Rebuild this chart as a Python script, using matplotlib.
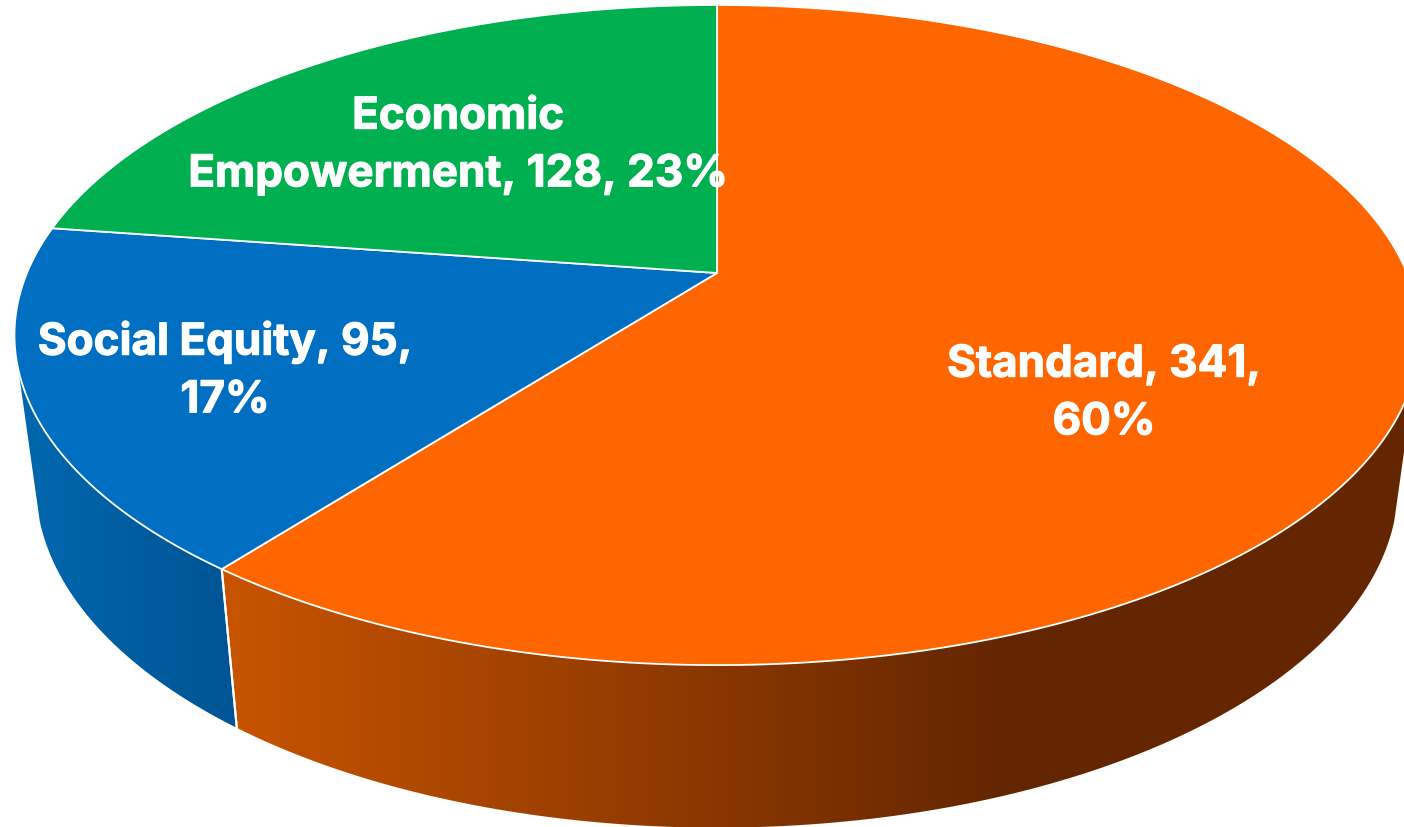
#!/usr/bin/env python3
"""Perspective 3D pie chart, the tilted disc is projected by hand."""

import numpy as np
import matplotlib
matplotlib.use('Agg')
import matplotlib.pyplot as plt
import matplotlib.patheffects as pe
from matplotlib.colors import LinearSegmentedColormap
from matplotlib.patches import Polygon

# Data
categories = ['Standard', 'Social Equity', 'Economic\nEmpowerment']
counts = [341, 95, 128]
percents = [60, 17, 23]
label_texts = ['Standard, 341,\n60%', 'Social Equity, 95,\n17%', 'Economic\nEmpowerment, 128, 23%']

top_colors = ['#FF6600', '#006EC1', '#00AF50']

# Projection of the top and bottom faces (pixels)
TOP = dict(x0=717, y0=273, a=690, b=318.4, p=0.188)
BOTTOM = dict(x0=717, y0=420, a=669, b=331, p=0.188)


def project(theta, face):
    """Angle clockwise from 12 o'clock to screen coordinates."""
    w = 1 + face['p'] * np.cos(theta)
    x = face['x0'] + face['a'] * np.sin(theta) / w
    y = face['y0'] - face['b'] * np.cos(theta) / w
    return x, y


def arc(start, end, face, n=240):
    thetas = np.linspace(start, end, n)
    x, y = project(thetas, face)
    return np.column_stack([x, y])


def draw_side(ax, start, end, stops, xmin, xmax, zorder=1):
    outline = np.vstack([arc(start, end, TOP), arc(end, start, BOTTOM)])
    cmap = LinearSegmentedColormap.from_list('side', stops)
    gradient = np.linspace(0, 1, 512).reshape(1, -1)
    im = ax.imshow(gradient, cmap=cmap, extent=[xmin, xmax, 827, 0], aspect='auto', zorder=zorder)
    patch = Polygon(outline, closed=True, facecolor='none', edgecolor='none', zorder=zorder + 1)
    ax.add_patch(patch)
    im.set_clip_path(patch)
    # white divider where the slices meet
    ax.plot(*zip(*[project(end, TOP), project(end, BOTTOM)]), color='white', lw=1.5, zorder=zorder + 2)


fig = plt.figure(figsize=(14.04, 8.27), dpi=100)
ax = fig.add_axes([0, 0, 1, 1])

fractions = np.array(counts) / sum(counts)
edges = np.concatenate([[0], np.cumsum(fractions)]) * 2 * np.pi

# Sides first, only the part of the wall that faces the viewer
draw_side(ax, np.radians(106.8), edges[1], [(0, '#C85400'), (0.66, '#642600'), (1, '#642600')], 222, 1404)
draw_side(ax, np.radians(253.2), edges[1], [(0, '#0068AE'), (1, '#005494')], 18, 236)

ax.set_xlim(0, 1404)
ax.set_ylim(827, 0)
ax.axis('off')

# Top face
for i, color in enumerate(top_colors):
    outer = arc(edges[i], edges[i + 1], TOP)
    pts = np.vstack([[TOP['x0'], TOP['y0']], outer])
    ax.add_patch(Polygon(pts, closed=True, facecolor=color, edgecolor='white', linewidth=1.3, zorder=5))

# Labels, thin stroke because the original face is heavier than Inter Bold
label_pos = [(1104, 394), (225, 371), (458, 146)]
for text, (x, y) in zip(label_texts, label_pos):
    ax.text(x, y, text, color='white', fontsize=31.7, fontweight='bold', family='Inter',
            ha='center', va='center', linespacing=1.52, zorder=6,
            path_effects=[pe.withStroke(linewidth=0.8, foreground='white')])

fig.savefig('out.png', dpi=100, facecolor='white')
